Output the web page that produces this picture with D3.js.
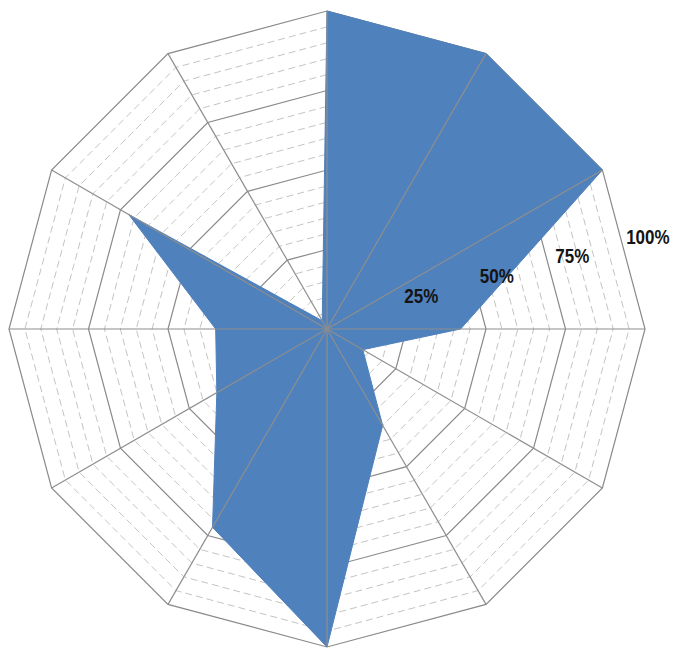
<!DOCTYPE html>
<html>
<head>
<meta charset="utf-8">
<script src="https://cdn.jsdelivr.net/npm/d3@7/dist/d3.min.js"></script>
<style>
  html, body { margin: 0; padding: 0; background: #ffffff; }
  svg { display: block; }
</style>
</head>
<body>
<svg id="chart" width="673" height="648"></svg>
<script>
// Radar chart: one filled series on twelve spokes, 0–100 %.
const categories = ["1", "2", "3", "4", "5", "6", "7", "8", "9", "10", "11", "12"];
const values = [100, 100, 100, 42, 13, 35, 100, 72, 40, 35, 72, 3];
const majorTicks = [25, 50, 75, 100];
const minorTicks = [5, 10, 15, 20, 30, 35, 40, 45, 55, 60, 65, 70, 80, 85, 90, 95];
const tickLabels = ["25%", "50%", "75%", "100%"];

const width = 673, height = 648;
const cx = 327, cy = 329, outerR = 318;

const svg = d3.select("#chart");
const g = svg.append("g").attr("transform", `translate(${cx},${cy})`);

const r = d3.scaleLinear().domain([0, 100]).range([0, outerR]);
const angle = d3.scaleLinear()
  .domain([0, categories.length])
  .range([0, 2 * Math.PI]);

const ringLine = d3.lineRadial()
  .angle((d, i) => angle(i))
  .radius(d => r(d))
  .curve(d3.curveLinearClosed);

// dashed minor rings
g.append("g").selectAll("path")
  .data(minorTicks)
  .join("path")
  .attr("d", t => ringLine(categories.map(() => t)))
  .attr("fill", "none")
  .attr("stroke", "#c4c4c4")
  .attr("stroke-width", 1)
  .attr("stroke-dasharray", "7,4");

// solid major rings
g.append("g").selectAll("path")
  .data(majorTicks)
  .join("path")
  .attr("d", t => ringLine(categories.map(() => t)))
  .attr("fill", "none")
  .attr("stroke", "#8a8a8a")
  .attr("stroke-width", 1.2);

// series area
g.append("path")
  .datum(values)
  .attr("d", ringLine)
  .attr("fill", "#4f81bd")
  .attr("stroke", "#4f81bd")
  .attr("stroke-width", 1)
  .attr("stroke-linejoin", "round");

// spokes on top of the area
g.append("g").selectAll("line")
  .data(categories)
  .join("line")
  .attr("x1", 0).attr("y1", 0)
  .attr("x2", (d, i) => Math.sin(angle(i)) * r(100))
  .attr("y2", (d, i) => -Math.cos(angle(i)) * r(100))
  .attr("stroke", "#8e8e8e")
  .attr("stroke-width", 1.2);

// value axis labels, laid along a shallow ray to the right
const labelAngle = 14.7 * Math.PI / 180;
const labelG = g.append("g");
labelG.selectAll("text")
  .data(majorTicks)
  .join("text")
  .attr("transform", (t) => {
    const d = r(t) * 0.982;
    const x = 18.8 + d * Math.cos(labelAngle);
    const y = -13.6 - d * Math.sin(labelAngle);
    return `translate(${x},${y}) scale(1,1.22)`;
  })
  .attr("text-anchor", "middle")
  .attr("dy", "0.36em")
  .attr("font-family", "'Liberation Sans', Arial, sans-serif")
  .attr("font-weight", "bold")
  .attr("font-size", 17)
  .attr("fill", "#141414")
  .text((t, i) => tickLabels[i]);
</script>
</body>
</html>
